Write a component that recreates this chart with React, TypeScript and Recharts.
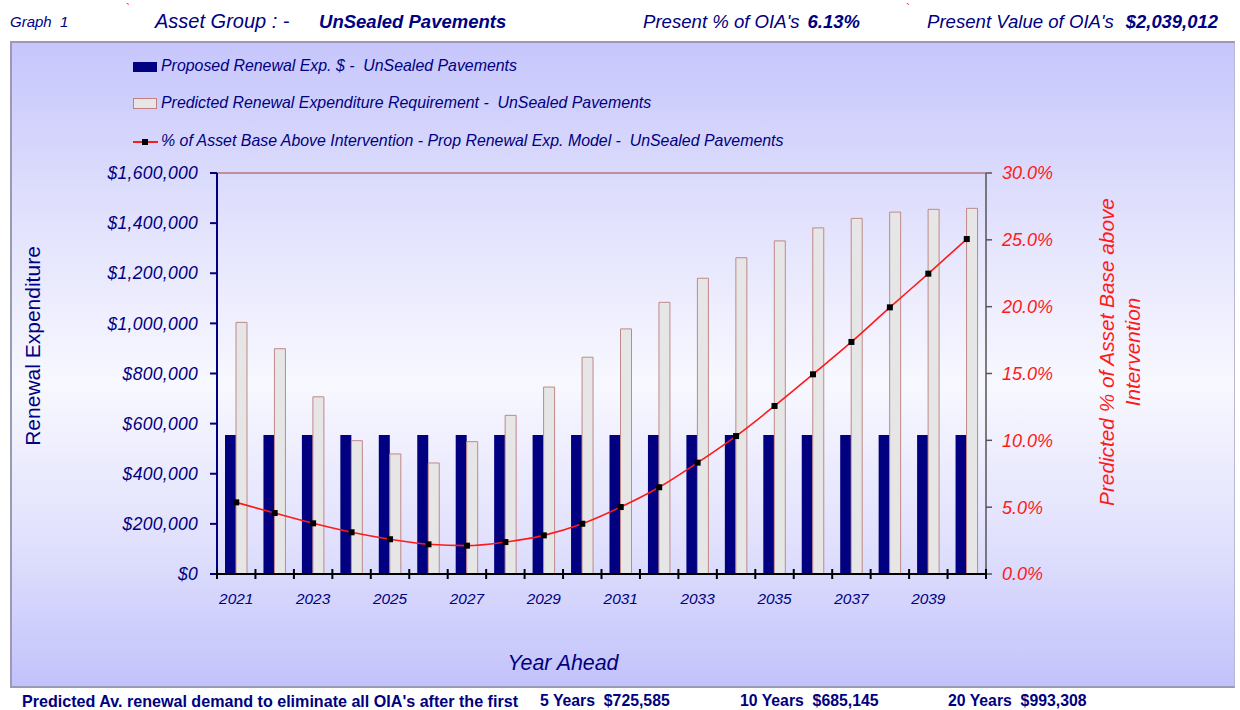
import React from "react";
import {
  Bar,
  CartesianGrid,
  ComposedChart,
  Line,
  ReferenceLine,
  XAxis,
  YAxis,
} from "recharts";

const years = [
  "2021", "2022", "2023", "2024", "2025", "2026", "2027", "2028", "2029", "2030",
  "2031", "2032", "2033", "2034", "2035", "2036", "2037", "2038", "2039", "2040",
];

const proposedRenewal = [
  555000, 555000, 555000, 555000, 555000, 555000, 555000, 555000, 555000, 555000,
  555000, 555000, 555000, 555000, 555000, 555000, 555000, 555000, 555000, 555000,
];

const predictedRequirement = [
  1004000, 899000, 707000, 532000, 479000, 443000, 528000, 633000, 746000, 865000,
  978000, 1084000, 1180000, 1262000, 1329000, 1381000, 1419000, 1444000, 1455000, 1459000,
];

const pctAboveIntervention = [
  0.0536, 0.0456, 0.0379, 0.0312, 0.026, 0.0222, 0.0212, 0.0239, 0.0289, 0.0376,
  0.0501, 0.0649, 0.0833, 0.1032, 0.1257, 0.1494, 0.1736, 0.1995, 0.2247, 0.2506,
];

const leftTicks = [0, 200000, 400000, 600000, 800000, 1000000, 1200000, 1400000, 1600000];
const rightTicks = [0, 0.05, 0.1, 0.15, 0.2, 0.25, 0.3];

const data = years.map((year, i) => ({
  year,
  proposed: proposedRenewal[i],
  predicted: predictedRequirement[i],
  pct: pctAboveIntervention[i],
}));

const FONT = '"Liberation Sans", Arial, sans-serif';
const NAVY = "#000080";
const RED = "#ff1a1a";

const CHART_W = 1240;
const CHART_H = 710;
const PLOT_LEFT = 217;
const PLOT_RIGHT = 986;
const BAND = (PLOT_RIGHT - PLOT_LEFT) / years.length;

const money = (v: number) => "$" + v.toLocaleString("en-US");
const pct = (v: number) => (v * 100).toFixed(1) + "%";

function YearTick(props: any) {
  const { x, y, index } = props;
  const left = x - BAND / 2;
  const last = index === years.length - 1;
  return (
    <g>
      <line x1={left} x2={left} y1={y - 5} y2={y + 5} stroke="#000" strokeWidth={2} />
      {last && (
        <line x1={x + BAND / 2} x2={x + BAND / 2} y1={y - 5} y2={y + 5} stroke="#000" strokeWidth={2} />
      )}
      {index % 2 === 0 && (
        <text
          x={x}
          y={y + 30}
          textAnchor="middle"
          fill={NAVY}
          fontSize={15.4}
          fontStyle="italic"
          fontFamily={FONT}
        >
          {props.payload.value}
        </text>
      )}
    </g>
  );
}

function SquareDot(props: any) {
  const { cx, cy } = props;
  return <rect x={cx - 3} y={cy - 3} width={6} height={6} fill="#000" />;
}

const legendText: React.CSSProperties = {
  position: "absolute",
  fontFamily: FONT,
  fontStyle: "italic",
  fontSize: 15.9,
  color: NAVY,
  whiteSpace: "nowrap",
};

const footText: React.CSSProperties = {
  position: "absolute",
  top: 692,
  fontSize: 15.8,
  fontWeight: "bold",
  color: NAVY,
  whiteSpace: "nowrap",
};

export default function App() {
  return (
    <div
      style={{
        position: "absolute",
        left: 0,
        top: 0,
        width: CHART_W,
        height: CHART_H,
        background: "#fff",
        fontFamily: FONT,
        overflow: "hidden",
      }}
    >
      {/* header */}
      <div style={{ position: "absolute", left: 10, top: 13, fontSize: 15, fontStyle: "italic", color: NAVY }}>
        Graph&nbsp;&nbsp;1
      </div>
      <div style={{ position: "absolute", left: 126, top: 2, fontSize: 12, color: RED }}>`</div>
      <div style={{ position: "absolute", left: 155, top: 10, fontStyle: "italic", color: NAVY, whiteSpace: "nowrap" }}>
        <span style={{ fontSize: 20 }}>Asset Group : - </span>
        <span style={{ fontSize: 18.5, fontWeight: "bold", marginLeft: 24 }}>UnSealed Pavements</span>
      </div>
      <div style={{ position: "absolute", left: 643, top: 11, fontStyle: "italic", color: NAVY, whiteSpace: "nowrap" }}>
        <span style={{ fontSize: 18.6 }}>Present % of OIA's</span>
        <span style={{ fontSize: 18.5, fontWeight: "bold", marginLeft: 8 }}>6.13%</span>
      </div>
      <div style={{ position: "absolute", left: 906, top: 2, fontSize: 12, color: RED }}>`</div>
      <div style={{ position: "absolute", left: 927, top: 11, fontStyle: "italic", color: NAVY, whiteSpace: "nowrap" }}>
        <span style={{ fontSize: 18.6 }}>Present Value of OIA's</span>
        <span style={{ fontSize: 18.4, fontWeight: "bold", marginLeft: 12 }}>$2,039,012</span>
      </div>

      {/* panel */}
      <div
        style={{
          position: "absolute",
          left: 10,
          top: 41,
          width: 1222,
          height: 643,
          borderTop: "2px solid #9a9ab4",
          borderLeft: "2px solid #9a9ab4",
          borderBottom: "2px solid #9a9ab4",
          borderRight: "1px solid #b8b8d0",
          background: "linear-gradient(to bottom, #c6c6fc 0%, #e4e4fd 30%, #f8f8ff 53%, #e0e0fd 78%, #c2c2fb 100%)",
        }}
      />

      {/* legend */}
      <div style={{ position: "absolute", left: 133, top: 62, width: 24, height: 10, background: NAVY }} />
      <div style={{ ...legendText, left: 161, top: 57 }}>Proposed Renewal Exp. $ -&nbsp; UnSealed Pavements</div>
      <div
        style={{
          position: "absolute",
          left: 133,
          top: 98,
          width: 22,
          height: 9,
          background: "#e6e6e6",
          border: "1px solid #c08080",
        }}
      />
      <div style={{ ...legendText, left: 161, top: 94 }}>
        Predicted Renewal Expenditure Requirement -&nbsp; UnSealed Pavements
      </div>
      <div style={{ position: "absolute", left: 133, top: 141, width: 25, height: 2, background: RED }} />
      <div style={{ position: "absolute", left: 142, top: 139, width: 6, height: 6, background: "#000" }} />
      <div style={{ ...legendText, left: 161, top: 132 }}>
        % of Asset Base Above Intervention - Prop Renewal Exp. Model -&nbsp; UnSealed Pavements
      </div>

      {/* axis titles */}
      <div
        style={{
          position: "absolute",
          left: 33,
          top: 346,
          transform: "translate(-50%, -50%) rotate(-90deg)",
          fontSize: 21,
          color: NAVY,
          whiteSpace: "nowrap",
        }}
      >
        Renewal Expenditure
      </div>
      <div
        style={{
          position: "absolute",
          left: 1120,
          top: 352,
          transform: "translate(-50%, -50%) rotate(-90deg)",
          fontSize: 20.8,
          fontStyle: "italic",
          color: RED,
          textAlign: "center",
          whiteSpace: "nowrap",
          lineHeight: "26px",
        }}
      >
        Predicted % of Asset Base above
        <br />
        Intervention
      </div>
      <div
        style={{
          position: "absolute",
          left: 563,
          top: 663,
          transform: "translate(-50%, -50%)",
          fontSize: 21.4,
          fontStyle: "italic",
          color: NAVY,
          whiteSpace: "nowrap",
        }}
      >
        Year Ahead
      </div>

      {/* footer */}
      <div style={{ ...footText, left: 22, fontSize: 16.1 }}>
        Predicted Av. renewal demand to eliminate all OIA's after the first
      </div>
      <div style={{ ...footText, left: 540 }}>5 Years&nbsp; $725,585</div>
      <div style={{ ...footText, left: 740 }}>10 Years&nbsp; $685,145</div>
      <div style={{ ...footText, left: 948 }}>20 Years&nbsp; $993,308</div>

      {/* chart */}
      <div style={{ position: "absolute", left: 0, top: 0 }}>
        <ComposedChart
          width={CHART_W}
          height={CHART_H}
          data={data}
          margin={{ top: 173, right: 0, bottom: 106, left: 0 }}
          barCategoryGap="21%"
          barGap={0}
        >
          <CartesianGrid horizontal vertical={false} stroke="#7a7a7a" strokeWidth={1} />
          <XAxis
            dataKey="year"
            xAxisId={0}
            height={30}
            interval={0}
            tickLine={false}
            tickSize={0}
            tickMargin={0}
            axisLine={{ stroke: "#000", strokeWidth: 2 }}
            tick={<YearTick />}
          />
          <YAxis
            yAxisId="left"
            orientation="left"
            width={PLOT_LEFT}
            domain={[0, 1600000]}
            ticks={leftTicks}
            interval={0}
            tickFormatter={money}
            tickSize={7}
            tickMargin={12}
            axisLine={{ stroke: NAVY, strokeWidth: 2 }}
            tickLine={{ stroke: NAVY, strokeWidth: 2 }}
            tick={{ fill: NAVY, fontSize: 17.5, fontStyle: "italic", fontFamily: FONT, letterSpacing: 0.3 }}
          />
          <YAxis
            yAxisId="right"
            orientation="right"
            width={CHART_W - PLOT_RIGHT}
            domain={[0, 0.3]}
            ticks={rightTicks}
            interval={0}
            tickFormatter={pct}
            tickSize={6}
            tickMargin={10}
            axisLine={{ stroke: "#555", strokeWidth: 1.5 }}
            tickLine={{ stroke: "#555", strokeWidth: 1.5 }}
            tick={{ fill: RED, fontSize: 18, fontStyle: "italic", fontFamily: FONT }}
          />
          <ReferenceLine yAxisId="left" y={1600000} stroke="#c09098" strokeWidth={2} />
          <Bar
            yAxisId="left"
            dataKey="proposed"
            name="Proposed Renewal Exp. $ -  UnSealed Pavements"
            fill={NAVY}
            barSize={11}
            isAnimationActive={false}
          />
          <Bar
            yAxisId="left"
            dataKey="predicted"
            name="Predicted Renewal Expenditure Requirement -  UnSealed Pavements"
            fill="#e6e6e6"
            stroke="#c08888"
            strokeWidth={1}
            barSize={11}
            isAnimationActive={false}
          />
          <Line
            yAxisId="right"
            dataKey="pct"
            type="monotone"
            stroke={RED}
            strokeWidth={1.6}
            dot={<SquareDot />}
            activeDot={false}
            isAnimationActive={false}
          />
        </ComposedChart>
      </div>
    </div>
  );
}
